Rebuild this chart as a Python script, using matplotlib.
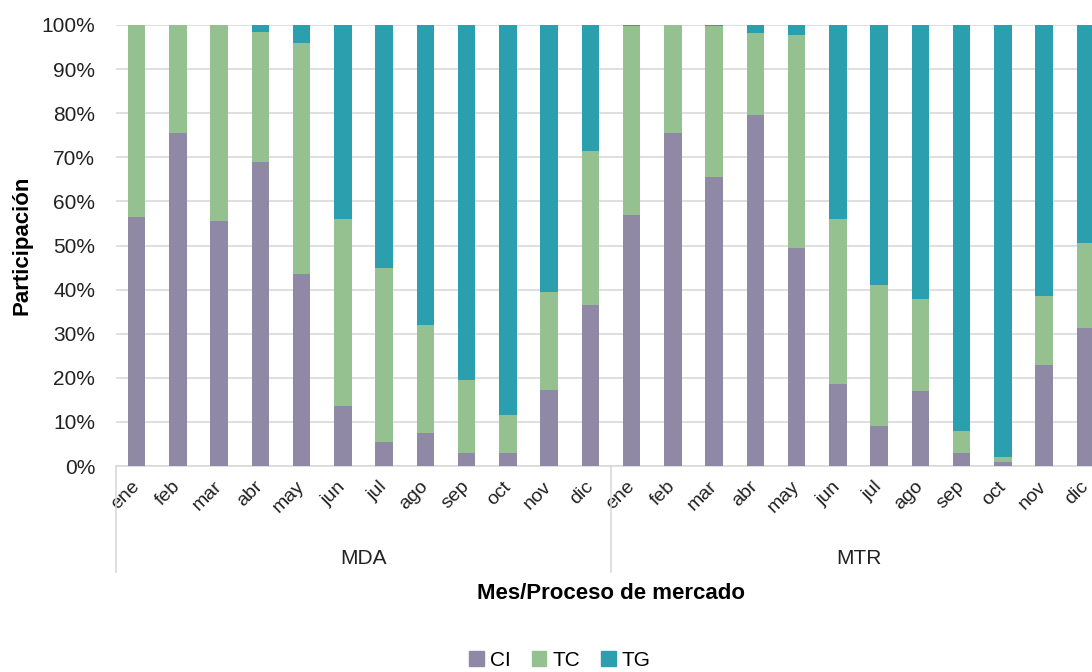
import matplotlib
matplotlib.use("Agg")
import matplotlib.pyplot as plt
import matplotlib.transforms as mtransforms
from matplotlib.patches import Patch
import numpy as np

plt.rcParams['font.family'] = ['Liberation Sans Narrow', 'Liberation Sans', 'DejaVu Sans']

months = ['ene', 'feb', 'mar', 'abr', 'may', 'jun', 'jul', 'ago', 'sep', 'oct', 'nov', 'dic']
groups = ['MDA', 'MTR']

# shares in %
ci_mda = [56.5, 75.5, 55.5, 69.0, 43.5, 13.5, 5.5, 7.5, 3.0, 3.0, 17.3, 36.4]
tc_mda = [43.5, 24.5, 44.5, 29.5, 52.5, 42.5, 39.5, 24.5, 16.5, 8.6, 22.2, 35.0]
tg_mda = [0.0, 0.0, 0.0, 1.5, 4.0, 44.0, 55.0, 68.0, 80.5, 88.4, 60.5, 28.6]

ci_mtr = [57.0, 75.5, 65.5, 79.6, 49.5, 18.6, 9.0, 17.0, 3.0, 1.0, 22.9, 31.3]
tc_mtr = [42.7, 24.5, 34.2, 18.6, 48.3, 37.4, 32.0, 20.8, 4.9, 1.0, 15.6, 19.3]
tg_mtr = [0.3, 0.0, 0.3, 1.8, 2.2, 44.0, 59.0, 62.2, 92.1, 98.0, 61.5, 49.4]

ci = np.array(ci_mda + ci_mtr)
tc = np.array(tc_mda + tc_mtr)
tg = np.array(tg_mda + tg_mtr)
labels = months + months

c_ci = '#8f89a5'
c_tc = '#95c08f'
c_tg = '#2c9fae'

fig = plt.figure(figsize=(10.92, 6.72), dpi=100)
# axes runs a bit past the right edge, like the cropped original
ax = fig.add_axes([116 / 1092, 1 - 466 / 672, 990 / 1092, 441 / 672])

x = np.arange(len(labels))
w = 0.42
ax.bar(x, ci, w, color=c_ci, zorder=3)
ax.bar(x, tc, w, bottom=ci, color=c_tc, zorder=3)
ax.bar(x, tg, w, bottom=ci + tc, color=c_tg, zorder=3)

ax.set_xlim(-0.5, len(labels) - 0.5)
ax.set_ylim(0, 100)
ax.set_yticks(np.arange(0, 101, 10))
ax.set_yticklabels([f'{v}%' for v in range(0, 101, 10)], fontsize=15, color='#222222')
ax.yaxis.grid(True, color='#d9d9d9', linewidth=1.2, zorder=0)
ax.tick_params(axis='y', length=0, pad=15)

ax.set_xticks(x)
ax.set_xticklabels(labels, rotation=45, ha='right', va='center',
                   rotation_mode='anchor', fontsize=14, color='#222222')
ax.tick_params(axis='x', length=0, pad=13)

for s in ['top', 'right', 'left']:
    ax.spines[s].set_visible(False)
ax.spines['bottom'].set_color('#d9d9d9')
ax.spines['bottom'].set_linewidth(1.2)

trans = mtransforms.blended_transform_factory(ax.transData, ax.transAxes)
for xs in [-0.5, 11.5, 23.5]:
    ax.plot([xs, xs], [0, -0.24], transform=trans, color='#d9d9d9',
            linewidth=1.2, clip_on=False)
for i, g in enumerate(groups):
    ax.text(5.5 + 12 * i, -0.21, g, transform=trans, ha='center', va='center',
            fontsize=15, color='#222222')

ax.text(0.5, -0.29, 'Mes/Proceso de mercado', transform=ax.transAxes,
        ha='center', va='center', fontsize=16, fontweight='bold')
fig.text(22 / 1092, 1 - 245 / 672, 'Participación', rotation=90,
         ha='center', va='center', fontsize=16, fontweight='bold')

handles = [Patch(color=c_ci, label='CI'), Patch(color=c_tc, label='TC'),
           Patch(color=c_tg, label='TG')]
fig.legend(handles=handles, loc='center', bbox_to_anchor=(560 / 1092, 1 - 660 / 672),
           ncol=3, frameon=False, fontsize=15, handlelength=0.7, handleheight=0.7,
           handletextpad=0.3, columnspacing=1.0)

fig.savefig('out.png', dpi=100)
